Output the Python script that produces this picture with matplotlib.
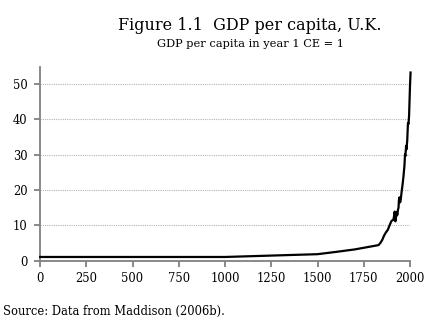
import matplotlib
matplotlib.use("Agg")
import matplotlib.pyplot as plt

# UK GDP per capita relative to year 1 CE (Maddison)
years = [1, 1000, 1500, 1600, 1700, 1820, 1830, 1840, 1850, 1860, 1870, 1880,
         1890, 1900, 1910, 1913, 1915, 1917, 1918, 1919, 1920, 1921, 1924,
         1929, 1931, 1935, 1938, 1940, 1943, 1945, 1947, 1950, 1955, 1960,
         1965, 1970, 1973, 1975, 1979, 1981, 1985, 1989, 1992, 1995, 2000, 2003]
gdp_rel = [1.0, 1.0, 1.79, 2.44, 3.13, 4.27, 4.37, 4.98, 5.83, 7.08, 7.98, 8.69,
           10.02, 11.23, 11.53, 12.30, 13.2, 13.86, 13.65, 12.19, 11.37, 11.10, 12.1,
           13.76, 12.85, 14.4, 14.96, 17.1, 17.9, 17.0, 16.5, 17.35, 19.6, 21.6,
           24.0, 26.9, 30.06, 29.6, 32.5, 31.5, 34.0, 39.0, 38.7, 41.0, 49.5, 53.3]

x_ticks = [0, 250, 500, 750, 1000, 1250, 1500, 1750, 2000]
y_ticks = [0, 10, 20, 30, 40, 50]

plt.rcParams['font.family'] = ['DejaVu Serif']

fig = plt.figure(figsize=(4.44, 3.21), dpi=100)
ax = fig.add_axes([40 / 444, 1 - 260.5 / 321, 370 / 444, 194 / 321])

ax.plot(years, gdp_rel, color='black', linewidth=1.6, clip_on=False, zorder=3)

ax.set_xlim(0, 2000)
ax.set_ylim(0, 55)
ax.set_xticks(x_ticks)
ax.set_yticks(y_ticks)

# dotted grey gridlines
ax.grid(axis='y', color='#b4b4b4', linestyle=(0, (1, 1)), linewidth=0.8)

for side in ['top', 'right']:
    ax.spines[side].set_visible(False)
for side in ['left', 'bottom']:
    ax.spines[side].set_color('#808080')
    ax.spines[side].set_linewidth(1.3)

ax.tick_params(axis='both', colors='#808080', length=4, width=1.3,
               labelsize=8.3, labelcolor='black')
ax.tick_params(axis='x', pad=4)
ax.tick_params(axis='y', pad=5)

fig.text(250 / 444, 1 - 26 / 321, "Figure 1.1  GDP per capita, U.K.",
         ha='center', va='center', fontsize=11.5)
fig.text(250 / 444, 1 - 44 / 321, "GDP per capita in year 1 CE = 1",
         ha='center', va='center', fontsize=8.2)
fig.text(3 / 444, 1 - 311 / 321, "Source: Data from Maddison (2006b).",
         ha='left', va='center', fontsize=8.3)

fig.savefig("out.png", dpi=100)
